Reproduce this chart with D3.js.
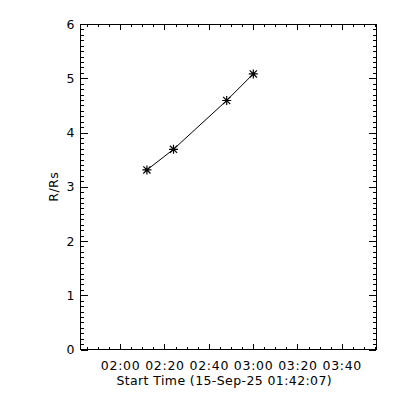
<!DOCTYPE html>
<html lang="en">
<head>
<meta charset="utf-8">
<title>R/Rs vs time</title>
<script src="https://d3js.org/d3.v7.min.js"></script>
<style>
  body { margin: 0; background: #fff; }
  text { font-family: "DejaVu Sans", sans-serif; fill: #000; }
</style>
</head>
<body>
<script>
// data
var startTime = "2025-09-15T01:42:07Z";
var times = ["02:12:05", "02:24:05", "02:48:05", "03:00:05"];
var heights = [3.31, 3.69, 4.59, 5.08];
var yLabels = [0, 1, 2, 3, 4, 5, 6];

var width = 400, height = 400;
// plot box (note: "top" is taken by window.top)
var pLeft = 80.5, pRight = 376, pTop = 24, pBottom = 349.5;

var t0 = new Date(startTime);
var t1 = new Date(t0.getTime() + 8000 * 1000);
var parse = function (s) { return new Date("2025-09-15T" + s + "Z"); };

var x = d3.scaleUtc().domain([t0, t1]).range([pLeft, pRight]);
var y = d3.scaleLinear().domain([0, 6]).range([pBottom, pTop]);

var svg = d3.select("body").append("svg")
  .attr("width", width)
  .attr("height", height);

var majorX = d3.utcMinute.every(20).range(t0, t1);
var minorX = d3.utcMinute.every(5).range(t0, t1);
var minorY = d3.range(0, 61).map(function (i) { return i / 10; });

function axisStyle(g) {
  g.select(".domain").remove();
  g.selectAll("line").attr("stroke", "#000").attr("shape-rendering", "crispEdges");
}

// x axes
svg.append("g").attr("transform", "translate(0," + pBottom + ")")
  .call(d3.axisBottom(x).tickValues(minorX).tickSize(-3).tickFormat(""))
  .call(axisStyle);
var xb = svg.append("g").attr("transform", "translate(0," + pBottom + ")")
  .call(d3.axisBottom(x).tickValues(majorX).tickSize(-6).tickPadding(12)
    .tickFormat(d3.utcFormat("%H:%M")))
  .call(axisStyle);
xb.selectAll("text").attr("font-size", 12.5).attr("letter-spacing", 0.7);
svg.append("g").attr("transform", "translate(0," + pTop + ")")
  .call(d3.axisTop(x).tickValues(minorX).tickSize(-3).tickFormat(""))
  .call(axisStyle);
svg.append("g").attr("transform", "translate(0," + pTop + ")")
  .call(d3.axisTop(x).tickValues(majorX).tickSize(-6).tickFormat(""))
  .call(axisStyle);

// y axes
svg.append("g").attr("transform", "translate(" + pLeft + ",0)")
  .call(d3.axisLeft(y).tickValues(minorY).tickSize(-3).tickFormat(""))
  .call(axisStyle);
var yl = svg.append("g").attr("transform", "translate(" + pLeft + ",0)")
  .call(d3.axisLeft(y).tickValues(yLabels).tickSize(-7).tickPadding(6)
    .tickFormat(d3.format("d")))
  .call(axisStyle);
yl.selectAll("text").attr("font-size", 12.5);
svg.append("g").attr("transform", "translate(" + pRight + ",0)")
  .call(d3.axisRight(y).tickValues(minorY).tickSize(-3).tickFormat(""))
  .call(axisStyle);
svg.append("g").attr("transform", "translate(" + pRight + ",0)")
  .call(d3.axisRight(y).tickValues(yLabels).tickSize(-7).tickFormat(""))
  .call(axisStyle);

// frame
svg.append("rect")
  .attr("x", pLeft).attr("y", pTop)
  .attr("width", pRight - pLeft).attr("height", pBottom - pTop)
  .attr("fill", "none").attr("stroke", "#000")
  .attr("shape-rendering", "crispEdges");

// axis titles
svg.append("text")
  .attr("x", (pLeft + pRight) / 2 - 4).attr("y", 385)
  .attr("text-anchor", "middle")
  .attr("font-size", 12.5).attr("letter-spacing", 0.4)
  .text("Start Time (15-Sep-25 01:42:07)");
svg.append("text")
  .attr("transform", "translate(58," + (pTop + pBottom) / 2 + ") rotate(-90)")
  .attr("text-anchor", "middle")
  .attr("font-size", 12.5).attr("letter-spacing", 0.5)
  .text("R/Rs");

// data
var pts = times.map(function (t, i) { return { t: parse(t), h: heights[i] }; });

svg.append("path")
  .datum(pts)
  .attr("fill", "none").attr("stroke", "#000").attr("stroke-width", 1)
  .attr("d", d3.line().x(function (d) { return x(d.t); }).y(function (d) { return y(d.h); }));

var r = 4.5;
var star = svg.selectAll(".star").data(pts).enter().append("g")
  .attr("class", "star")
  .attr("transform", function (d) { return "translate(" + x(d.t) + "," + y(d.h) + ")"; });
star.append("path")
  .attr("stroke", "#000").attr("stroke-width", 1.2).attr("fill", "none")
  .attr("d", "M" + (-r) + ",0H" + r + "M0," + (-r) + "V" + r +
    "M" + (-r * 0.8) + "," + (-r * 0.8) + "L" + (r * 0.8) + "," + (r * 0.8) +
    "M" + (-r * 0.8) + "," + (r * 0.8) + "L" + (r * 0.8) + "," + (-r * 0.8));
</script>
</body>
</html>
